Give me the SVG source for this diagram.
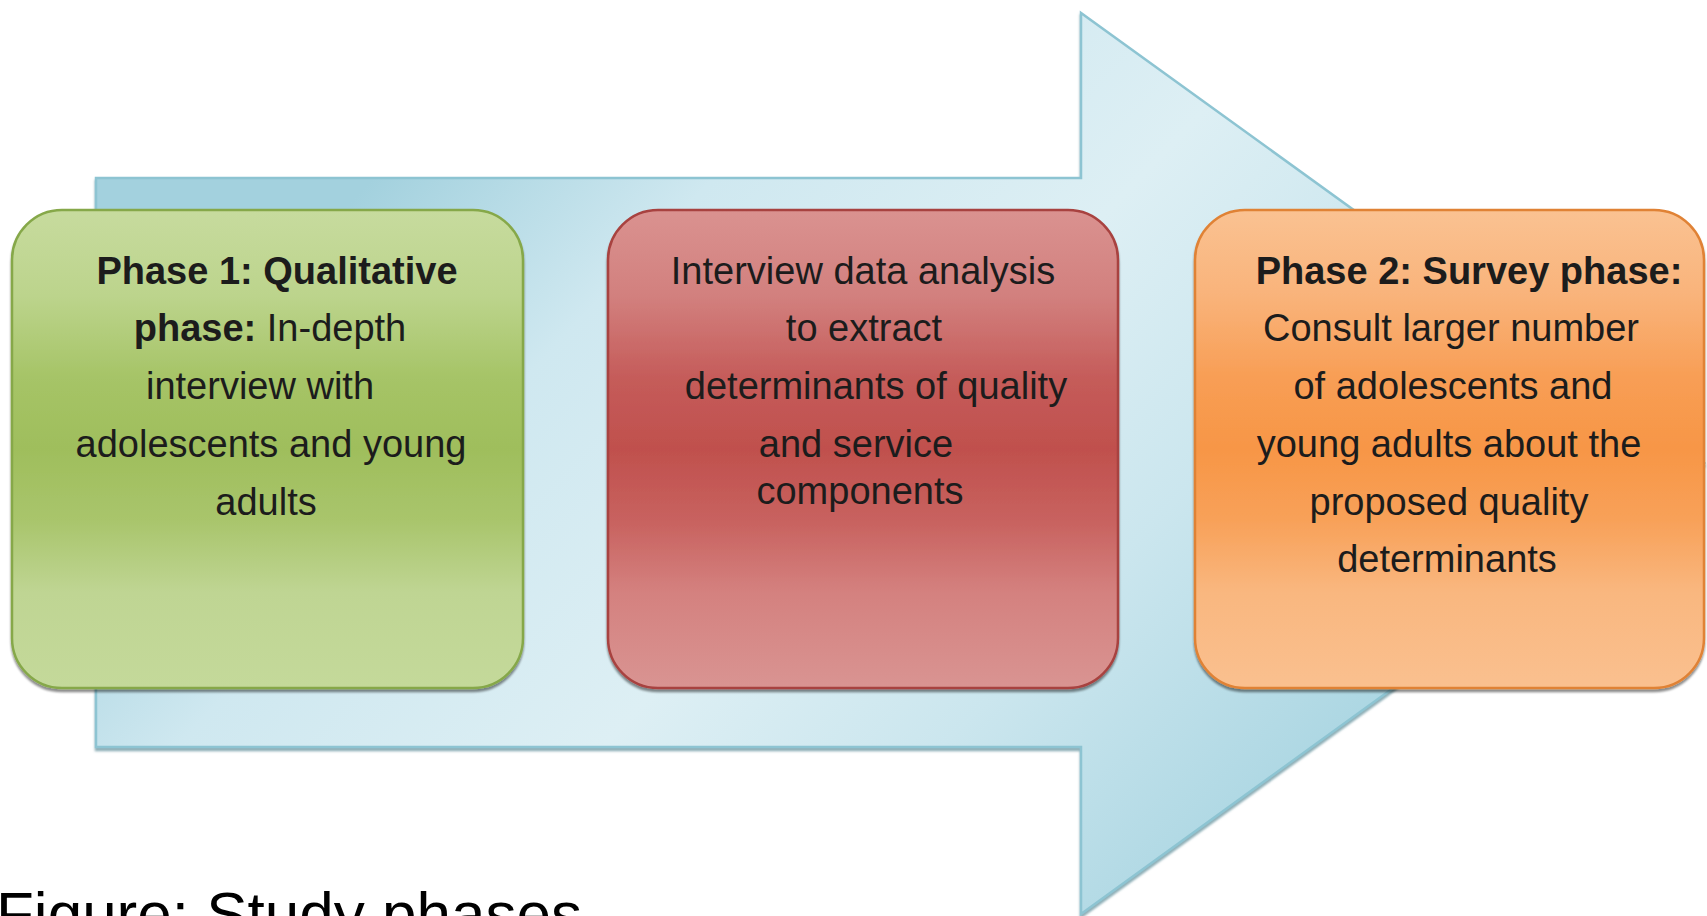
<svg xmlns="http://www.w3.org/2000/svg" width="1707" height="916" viewBox="0 0 1707 916">
<defs>
<style>
.t{font-family:"Liberation Sans",Arial,sans-serif;font-size:38px;fill:#1c1c1c;text-anchor:middle}
.b{font-weight:bold}
.cap{font-family:"Liberation Sans",Arial,sans-serif;font-size:62px;fill:#000}
</style>
<linearGradient id="arrowGrad" gradientUnits="userSpaceOnUse" x1="400" y1="150" x2="1300" y2="1000">
<stop offset="0" stop-color="#a3d1de"/>
<stop offset="0.2" stop-color="#cfe8f0"/>
<stop offset="0.45" stop-color="#ddeff4"/>
<stop offset="0.65" stop-color="#cbe6ee"/>
<stop offset="1" stop-color="#9dcfdd"/>
</linearGradient>
<linearGradient id="gGreen" x1="0" y1="0" x2="0" y2="1">
<stop offset="0" stop-color="#c7db9e"/>
<stop offset="0.18" stop-color="#bcd48c"/>
<stop offset="0.35" stop-color="#a6c467"/>
<stop offset="0.5" stop-color="#9fbe5c"/>
<stop offset="0.65" stop-color="#a9c56c"/>
<stop offset="0.8" stop-color="#bfd593"/>
<stop offset="1" stop-color="#c4d99a"/>
</linearGradient>
<linearGradient id="gRed" x1="0" y1="0" x2="0" y2="1">
<stop offset="0" stop-color="#da9290"/>
<stop offset="0.18" stop-color="#d2807e"/>
<stop offset="0.35" stop-color="#c55c5a"/>
<stop offset="0.5" stop-color="#c0504d"/>
<stop offset="0.65" stop-color="#c8625f"/>
<stop offset="0.8" stop-color="#d4817f"/>
<stop offset="1" stop-color="#d99492"/>
</linearGradient>
<linearGradient id="gOrange" x1="0" y1="0" x2="0" y2="1">
<stop offset="0" stop-color="#fac292"/>
<stop offset="0.18" stop-color="#f9b37a"/>
<stop offset="0.35" stop-color="#f89e55"/>
<stop offset="0.5" stop-color="#f79646"/>
<stop offset="0.65" stop-color="#f8a159"/>
<stop offset="0.8" stop-color="#f9b77f"/>
<stop offset="1" stop-color="#fac08f"/>
</linearGradient>
<filter id="shArrow" x="-5%" y="-5%" width="110%" height="115%">
<feDropShadow dx="0" dy="3" stdDeviation="1.2" flood-color="#5f8d99" flood-opacity="0.7"/>
</filter>
<filter id="shBox" x="-5%" y="-5%" width="110%" height="115%">
<feDropShadow dx="0" dy="3" stdDeviation="1.2" flood-color="#000" flood-opacity="0.45"/>
</filter>
</defs>
<rect width="1707" height="916" fill="#ffffff"/>
<g id="connectors">
<polygon points="96,178 1081,178 1081,13 1704,463 1081,914 1081,747 96,747" fill="url(#arrowGrad)" stroke="#8dc4d2" stroke-width="2.5" filter="url(#shArrow)"/>
</g>
<g id="node-phase1">
<rect x="12" y="210" width="511" height="478" rx="50" ry="50" fill="url(#gGreen)" stroke="#86a84a" stroke-width="2.5" filter="url(#shBox)"/>
<text class="t b" x="277" y="284">Phase 1: Qualitative</text>
<text class="t" x="270" y="341"><tspan class="b">phase:</tspan> In-depth</text>
<text class="t" x="260" y="399">interview with</text>
<text class="t" x="271" y="457">adolescents and young</text>
<text class="t" x="266" y="515">adults</text>
</g>
<g id="node-analysis">
<rect x="608" y="210" width="510" height="478" rx="50" ry="50" fill="url(#gRed)" stroke="#a8423f" stroke-width="2.5" filter="url(#shBox)"/>
<text class="t" x="863" y="284">Interview data analysis</text>
<text class="t" x="864" y="341">to extract</text>
<text class="t" x="876" y="399">determinants of quality</text>
<text class="t" x="856" y="457">and service</text>
<text class="t" x="860" y="504">components</text>
</g>
<g id="node-phase2">
<rect x="1195" y="210" width="509" height="478" rx="50" ry="50" fill="url(#gOrange)" stroke="#e08235" stroke-width="2.5" filter="url(#shBox)"/>
<text class="t b" x="1469" y="284">Phase 2: Survey phase:</text>
<text class="t" x="1451" y="341">Consult larger number</text>
<text class="t" x="1453" y="399">of adolescents and</text>
<text class="t" x="1449" y="457">young adults about the</text>
<text class="t" x="1449" y="515">proposed quality</text>
<text class="t" x="1447" y="572">determinants</text>
</g>
<text class="cap" x="-4" y="935">Figure: Study phases</text>
</svg>
